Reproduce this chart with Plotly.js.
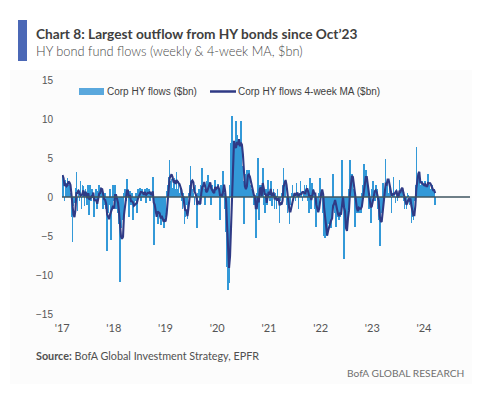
<!DOCTYPE html>
<html>
<head>
<meta charset="utf-8">
<script src="https://cdn.plot.ly/plotly-3.0.1.min.js"></script>
<style>
html,body{margin:0;padding:0;background:#fff;}
#chart{width:477px;height:397px;}
</style>
</head>
<body>
<div id="chart"></div>
<script>
// ---- DATA (weekly HY fund flows, $bn) ----
const firstWeek = '2017-01-04';
const flows2017 = [2.8, 2.0, -0.5, 2.2, 1.8, 2.5, 1.5, 1.6, 0.5, -2.5, -5.8, -1.2, -0.8, 1.2, 3.2, -1.8, 1.0, -0.5, 2.0, -1.5, 1.5, 1.4, -1.2, 1.0, 0.5, -1.0, 1.5, -2.3, 1.5, -0.5, 1.0, 0.3, -2.5, -0.5, 1.0, -1.5, 0.8, 1.5, 1.2, 0.8, 0.5, -1.5, -1.0, 0.5, -1.5, -6.9, -2.0, -1.0, 1.0, -5.5, -1.5, 1.5];
const flows2018 = [-0.5, 1.5, -1.5, -1.0, -2.0, -3.5, -10.9, -4.0, -3.0, -2.5, 0.5, 1.0, -0.5, 2.3, 0.5, -2.5, 0.8, -1.0, 0.5, -3.0, -1.0, -0.5, 0.5, -2.0, 1.0, 0.8, 1.2, -0.5, 1.0, 0.5, 0.2, 1.0, -0.8, 1.2, 0.7, 1.0, -0.5, 0.2, 0.6, 2.6, -6.2, -1.0, -2.0, -1.0, -3.4, -1.5, -2.5, -3.6, -2.0, -3.0, -4.0, -3.0];
const flows2019 = [-2.5, 0.8, 1.5, 2.6, 4.7, 2.0, 2.3, 1.2, 2.0, 2.5, 1.0, 3.2, 1.0, 2.0, 0.5, 1.5, -0.5, -1.5, 0.5, -3.5, -2.5, -1.0, -2.8, 0.5, 1.5, 4.0, 2.0, 1.0, 0.5, -1.0, 1.5, -0.5, -4.0, 0.5, 1.0, -1.0, 1.5, 3.7, 1.5, 1.0, -1.0, 1.0, 2.0, 2.8, 1.2, 1.5, -1.0, 1.5, 0.5, 1.0, 2.2, 0.5];
const flows2020 = [1.0, 1.7, 0.8, -3.0, 1.5, 1.0, 3.3, 0.5, -1.5, -4.5, -9.0, -11.9, -11.0, 1.5, 6.9, 10.4, 5.0, 6.5, 4.0, 9.7, 8.0, 5.0, 7.0, 6.0, 9.8, 4.0, 2.0, -3.5, 3.0, 2.5, 3.5, 2.0, 3.5, 1.5, 0.5, 1.0, 0.5, -1.0, 0.0, -5.3, 0.5, 5.0, -3.0, 1.5, 1.5, 0.5, 3.7, -1.0, -2.0, 1.0, -1.0, 2.2];
const flows2021 = [0.5, -0.5, 2.0, -1.2, 0.5, 1.0, -1.5, 0.5, -1.5, 1.0, -0.5, -3.3, -0.5, 0.5, 1.5, 3.7, 2.0, 1.5, -1.0, -2.0, -1.0, -3.4, -1.0, 0.5, 1.5, -0.5, 0.5, -0.5, 1.8, 0.5, -1.5, 0.5, 2.0, 0.5, -0.5, 0.5, 1.5, 0.3, 1.6, 1.0, -0.5, -2.0, 2.4, -1.5, 1.8, 1.0, 0.5, -1.5, -3.8, -1.0, -1.5, 0.5];
const flows2022 = [2.4, 0.5, 0.5, -2.0, -5.0, -5.2, -4.5, -5.0, -2.5, -3.5, -2.0, -4.0, -1.5, 3.0, -1.0, -2.0, -3.8, -0.5, -2.5, -3.0, -2.5, -1.0, 4.7, -1.0, -7.9, -3.0, -4.0, -2.5, -1.5, 1.0, 4.8, 2.0, 3.0, 0.5, 1.0, -3.8, -1.0, -2.0, -0.5, -2.0, -1.5, -2.0, 0.5, 1.5, 4.2, 1.0, 3.5, 1.5, 0.5, -1.5, -1.0, -3.3];
const flows2023 = [1.0, 2.0, 0.5, -0.5, 1.5, 1.0, -1.5, -3.0, -6.3, -1.5, -2.0, 1.8, -0.5, 0.5, 4.9, 1.5, 2.0, 0.5, 2.0, 0.5, -2.0, 0.5, 2.6, 0.5, -0.8, 1.0, -0.5, 0.5, 2.2, 0.5, 1.0, 1.0, -0.5, -1.5, -0.5, -1.5, 0.5, 0.3, -1.0, -0.5, -3.3, -2.5, -3.0, -0.5, 1.5, 6.4, 1.5, 2.5, 2.5, 1.0, 1.5, 2.0];
const flows2024 = [1.5, 1.0, 2.0, 1.0, 1.5, 3.0, 1.5, 1.0, 0.5, 1.5, 0.5, 1.0, -1.0];
const yearTicks = ['2017-01-01','2018-01-01','2019-01-01','2020-01-01','2021-01-01','2022-01-01','2023-01-01','2024-01-01'];
const yearLabels = ["'17","'18","'19","'20","'21","'22","'23","'24"];
const barName = 'Corp HY flows ($bn)';
const maName = 'Corp HY flows 4-week MA ($bn)';

// ---- build series ----
const flows = [].concat(flows2017, flows2018, flows2019, flows2020, flows2021, flows2022, flows2023, flows2024);
const t0 = Date.parse(firstWeek + 'T00:00:00Z');
const weeks = flows.map((_, i) => new Date(t0 + i * 7 * 86400000).toISOString().slice(0, 10));
const ma4 = flows.map((_, i) => {
  const w = flows.slice(Math.max(0, i - 3), i + 1);
  return w.reduce((a, b) => a + b, 0) / w.length;
});

// ---- pixel helpers for paper placement (plot area: x 62..470, y 80..314) ----
const L = 62, R = 470, T = 80, B = 314;
const px = x => (x - L) / (R - L);
const py = y => (B - y) / (B - T);

const head = 'Lato, "Open Sans", sans-serif';
const plain = '"Liberation Sans", Arial, sans-serif';

const traces = [
  {
    type: 'bar', x: weeks, y: flows, name: barName,
    marker: {color: '#3399d8', line: {width: 0}},
    width: 12 * 86400000, showlegend: false, hoverinfo: 'x+y'
  },
  {
    type: 'scatter', mode: 'lines', x: weeks, y: ma4, name: maName,
    line: {color: '#2f3a85', width: 2.1}, showlegend: false
  }
];

const layout = {
  width: 477, height: 397,
  margin: {l: L, r: 477 - R, t: T, b: 397 - B, pad: 0},
  paper_bgcolor: '#ffffff',
  plot_bgcolor: 'rgba(0,0,0,0)',
  bargap: 0,
  showlegend: false,
  xaxis: {
    type: 'date',
    range: ['2016-12-31', '2024-11-21'],
    tickvals: yearTicks, ticktext: yearLabels,
    showgrid: false, zeroline: false, showline: false, ticks: '',
    tickfont: {family: head, size: 11, color: '#555'},
    ticklabelstandoff: 6
  },
  yaxis: {
    range: [-15, 15], dtick: 5, tick0: 0,
    showgrid: false, zeroline: false, showline: false, ticks: '',
    tickfont: {family: plain, size: 10, color: '#555'},
    ticklabelstandoff: 8
  },
  shapes: [
    {type: 'rect', xref: 'paper', yref: 'paper', x0: px(10), x1: px(472), y0: py(384), y1: py(70),
     fillcolor: '#fcfcfc', line: {width: 0}, layer: 'below'},
    {type: 'rect', xref: 'paper', yref: 'paper', x0: px(18), x1: px(27), y0: py(61), y1: py(20),
     fillcolor: '#4b68b6', line: {width: 0}},
    {type: 'line', xref: 'paper', yref: 'y', x0: 0, x1: 1, y0: 0, y1: 0,
     line: {color: '#3f5660', width: 1.4}, layer: 'above'},
    {type: 'rect', xref: 'paper', yref: 'paper', x0: px(79), x1: px(104), y0: py(95), y1: py(88),
     fillcolor: '#5aa8dd', line: {width: 0}},
    {type: 'line', xref: 'paper', yref: 'paper', x0: px(210), x1: px(236), y0: py(91.5), y1: py(91.5),
     line: {color: '#2f3a85', width: 2.5}}
  ],
  annotations: [
    {xref: 'paper', yref: 'paper', x: px(34), y: py(33), xanchor: 'left', yanchor: 'middle', showarrow: false,
     text: '<b>Chart 8: Largest outflow from HY bonds since Oct’23</b>',
     font: {family: head, size: 13.7, color: '#3f3f3f'}},
    {xref: 'paper', yref: 'paper', x: px(34), y: py(51), xanchor: 'left', yanchor: 'middle', showarrow: false,
     text: 'HY bond fund flows (weekly &amp; 4-week MA, $bn)',
     font: {family: head, size: 12.8, color: '#474747', weight: 300}},
    {xref: 'paper', yref: 'paper', x: px(105), y: py(91.5), xanchor: 'left', yanchor: 'middle', showarrow: false,
     text: barName, font: {family: plain, size: 10, color: '#404040'}},
    {xref: 'paper', yref: 'paper', x: px(236), y: py(91.5), xanchor: 'left', yanchor: 'middle', showarrow: false,
     text: maName, font: {family: plain, size: 10, color: '#404040'}},
    {xref: 'paper', yref: 'paper', x: px(34), y: py(355), xanchor: 'left', yanchor: 'middle', showarrow: false,
     text: '<b>Source:</b> BofA Global Investment Strategy, EPFR',
     font: {family: head, size: 10.8, color: '#505050'}},
    {xref: 'paper', yref: 'paper', x: px(466), y: py(373), xanchor: 'right', yanchor: 'middle', showarrow: false,
     text: 'BofA GLOBAL RESEARCH',
     font: {family: head, size: 10.2, color: '#707070'}}
  ]
};

Plotly.newPlot('chart', traces, layout, {displayModeBar: false, staticPlot: true});
</script>
</body>
</html>
